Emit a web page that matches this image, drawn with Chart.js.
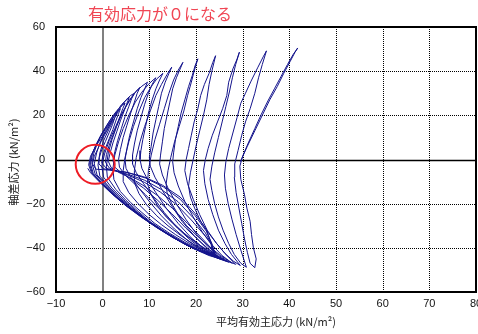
<!DOCTYPE html>
<html lang="ja">
<head>
  <meta charset="UTF-8" />
  <title>有効応力経路</title>
  <script src="https://cdn.jsdelivr.net/npm/chart.js"></script>
  <style>
    html, body {
      margin: 0;
      padding: 0;
      background: #fff;
    }
    #wrap {
      position: relative;
      width: 478px;
      height: 334px;
    }
  </style>
</head>
<body>

  <div id="wrap">
    <canvas id="pathChart" width="478" height="334"></canvas>
  </div>

  <script>
    // axis ticks
    const xTickValues = [-10, 0, 10, 20, 30, 40, 50, 60, 70, 80];
    const yTickValues = [-60, -40, -20, 0, 20, 40, 60];

    // labels
    const noteText = '有効応力が０になる';
    const xTitle = '平均有効主応力 (kN/m²)';
    const yTitle = '軸差応力 (kN/m²)';

    // point where effective stress reaches zero (red circle)
    const zeroPoint = [[-1.6, -2.2]];

    // stress path [p', q], one array per loading cycle
    const loading0 = [[29.5,-1],[31,6],[32.6,13],[34.2,20],[35.8,27],[37.4,33],[38.8,39],[40.2,44.5],[41.2,48.5]];
    const cycle01 = [[41.8,50.5],[40.8,47.5],[39.6,43],[38.2,37.5],[36.8,32],[35.4,26.5],[34,20.5],[32.6,14],[31.2,7.5],[30,1.5],[29.4,-3],[29.6,-9],[30.4,-16],[30.9,-22],[31.6,-28],[31.9,-34],[32.3,-40],[32.9,-45],[32.6,-49],
      [31.6,-47],[31,-42],[30.4,-36],[29.8,-29],[29.2,-22],[28.6,-15],[28.2,-8],[28.3,-2],[29,4],[29.8,11],[30.6,17],[31.6,23],[32.6,30],[33.4,37],[34.2,43]];
    const cycle02 = [[35.1,49.2],[34.4,46.5],[33.2,41.5],[31.8,35.5],[30.6,30],[29.6,25.5],[28.8,19],[27.9,12],[27,5],[26.4,-1],[26.1,-7],[26.3,-13],[26.9,-20],[27.7,-27],[28.6,-34],[29.6,-41],[30.8,-48.8],
      [29.6,-47],[28.2,-43],[27,-38],[25.8,-32],[24.8,-26],[24,-20],[23.4,-14],[23,-9],[23.4,-3],[24,3],[24.8,10],[25.6,17],[26.4,24],[27.2,31],[27.8,37],[28.5,43]];
    const cycle03 = [[29.3,48.6],[28.8,45.5],[27.9,41],[27,35],[26.6,29],[25.7,23],[24.6,17],[23.5,11],[22.6,5],[22,0],[21.6,-5],[21.9,-11],[22.6,-18],[23.6,-25],[24.8,-32],[26.2,-38],[27.6,-43],[29.5,-48],
      [28,-46],[26.2,-42.5],[24.4,-38],[22.6,-33],[21,-28],[19.7,-22],[18.8,-17],[18.4,-12],[18.8,-6],[19.4,0],[20,6],[20.8,13],[21.6,20],[22.3,27],[22.8,34],[23.4,40]];
    const cycle04 = [[24.2,47],[23.6,44],[22.8,39],[21.8,34],[21,29],[20.4,23],[19.6,17],[19,11],[18.4,5],[17.9,0],[17.6,-5],[18.2,-11],[19.4,-18],[20.8,-25],[22.4,-32],[24.4,-38],[26.4,-43],[28.5,-47.5],
      [27,-46],[25,-43],[22.6,-39],[20.2,-34.5],[18,-30],[16.2,-25],[14.8,-20],[13.8,-15],[13.6,-11],[14,-5],[14.6,1],[15.4,8],[16.4,15],[17.4,22],[18.2,29],[19,35],[19.6,40]];
    const cycle05 = [[20.4,45.6],[19.8,42.5],[19.2,38],[18.4,33],[17.6,27],[16.8,21],[16.2,15],[15.6,9],[15.2,3],[15,-1],[15.3,-6],[16.2,-12],[17.6,-19],[19.4,-26],[21.4,-33],[23.6,-39],[25.6,-43.5],[27.8,-47],
      [26,-45.5],[23.6,-42.5],[21,-39],[18.4,-35],[15.8,-30.5],[13.6,-26],[11.8,-21],[10.4,-16],[9.6,-11],[9.8,-5],[10.4,2],[11.2,9],[12.2,16],[13.2,23],[14.2,30],[15.2,36],[16.2,40.5]];
    const cycle06 = [[17.2,44],[16.6,41],[15.8,37],[15,32],[14.4,26],[13.8,20],[13.2,14],[12.8,8],[12.4,2],[12.2,-2],[12.8,-7],[14,-13],[15.8,-20],[17.8,-27],[20.2,-34],[22.6,-39.5],[25,-43.5],[27,-46.5],
      [25,-45],[22.4,-42],[19.6,-38.5],[16.8,-34.5],[14,-30],[11.6,-25.5],[9.4,-20.5],[7.8,-15.5],[6.8,-10.5],[6.8,-5],[7.2,1],[8,8],[9,15],[10.2,22],[11.4,29],[12.6,34],[13.8,38.5]];
    const cycle07 = [[14.8,41.8],[14.2,39],[13.4,35],[12.6,30],[12,24],[11.4,18],[10.8,12],[10.4,6],[10,1],[10.2,-3],[11.2,-8],[12.8,-14],[14.8,-21],[17,-28],[19.6,-34.5],[22.2,-40],[24.6,-43.5],[26.5,-46],
      [24.4,-44.5],[21.6,-41.5],[18.6,-38],[15.6,-34],[12.6,-29.5],[10,-25],[7.6,-20],[5.6,-15],[4.4,-10],[4.4,-5],[4.8,1],[5.6,8],[6.6,15],[7.8,22],[9,28],[10.4,33],[11.6,36.5]];
    const cycle08 = [[12.9,39],[12.2,36],[11.4,32],[10.6,27],[9.8,21],[9.2,15],[8.6,9],[8.2,4],[8,0],[8.4,-4],[9.6,-9],[11.4,-15],[13.6,-22],[16.2,-29],[19,-35.5],[21.8,-40.5],[24.2,-43.5],[26,-45.5],
      [23.8,-44],[20.8,-41],[17.6,-37.5],[14.4,-33.5],[11.2,-29],[8.4,-24],[6,-19.5],[3.8,-14.5],[2.4,-9],[2.2,-4],[2.6,2],[3.4,8],[4.4,14],[5.6,20],[7,26],[8.4,30.5],[9.8,34],[10.8,36]];
    const cycle09 = [[11.4,37],[10.6,34],[9.8,30],[9,25],[8.2,19],[7.4,13],[6.8,7],[6.4,2],[6.4,-2],[7.2,-6],[8.8,-11],[10.8,-17],[13.2,-24],[16,-31],[18.8,-36.5],[21.6,-41],[24,-43.5],[25.5,-45],
      [23.2,-43.5],[20,-40.5],[16.8,-37],[13.6,-33],[10.4,-28.5],[7.6,-23.5],[5,-18.5],[2.8,-13.5],[1,-8],[0.8,-3],[1.2,3],[2,9],[3,15],[4.2,21],[5.6,26.5],[7,30.5],[8.4,33.2]];
    const cycle10 = [[9.6,35],[9,32],[8.2,28],[7.4,23],[6.6,17],[5.8,11],[5.2,5],[4.8,0],[5,-4],[6,-8],[7.8,-13],[10,-19],[12.6,-25.5],[15.4,-31.5],[18.4,-37],[21.2,-41],[23.6,-43.5],[25.2,-45],
      [22.8,-43.5],[19.6,-40.5],[16.2,-36.5],[13,-32.5],[9.8,-28],[7,-23],[4.4,-18],[2,-13],[0.2,-8],[-0.2,-3],[0.4,2.5],[1.4,8.5],[2.6,14],[3.8,19.5],[5,24],[6.2,28],[7.2,31]];
    const cycle11 = [[8,32.7],[7.4,30],[6.8,26],[6,21],[5.2,15.5],[4.4,10],[3.8,4.5],[3.4,0],[3.6,-3.5],[4.8,-7],[6.8,-11],[9.2,-16],[12,-22],[15,-28.5],[18,-34.5],[21,-39.5],[23.4,-43],[25,-44.5],
      [22.6,-43],[19.2,-40],[15.8,-36],[12.6,-32],[9.4,-27.5],[6.4,-22.5],[3.8,-17.5],[1.4,-12.5],[-0.6,-7.5],[-1,-2.5],[-0.6,3],[0.2,8.5],[1.4,14],[2.6,19],[3.8,23.5],[5,27],[6,29]];
    const cycle12 = [[6.8,30],[6.2,27.5],[5.6,24],[4.8,19.5],[4,14],[3.2,8.5],[2.6,3.5],[2.2,-0.5],[2.6,-3.5],[4,-6],[6.2,-9],[8.8,-13],[11.8,-18.5],[14.8,-24.5],[17.8,-31],[20.8,-37],[23.2,-41.5],[24.8,-44],
      [22.4,-42.8],[19,-39.8],[15.6,-35.8],[12.4,-31.5],[9.2,-27],[6.2,-22],[3.4,-17],[1,-12],[-1.2,-7],[-1.8,-2],[-1.3,3],[-0.5,8],[0.6,13],[1.8,17.5],[3,21.5],[4,24.8],[5,26.8]];
    const cycle13 = [[5.7,28],[5.2,25.5],[4.6,22],[3.8,17.5],[3,12.5],[2.2,7.5],[1.6,3],[1.2,-0.8],[1.8,-3.6],[3.4,-5.8],[5.8,-8.2],[8.6,-11.6],[11.8,-16.4],[15,-22.2],[18.2,-29],[21.2,-35.5],[23.4,-40.5],[24.5,-44],
      [22.2,-42.6],[18.8,-39.6],[15.4,-35.6],[12.2,-31.4],[9,-26.8],[5.8,-21.8],[3,-16.8],[0.6,-11.6],[-1.6,-6.6],[-2.3,-1.8],[-1.9,2.8],[-1.1,7.6],[0,12.4],[1.2,16.6],[2.4,20.4],[3.4,23],[4.2,24.6]];
    const cycle14 = [[4.8,25.5],[4.3,23],[3.7,19.5],[3,15.5],[2.2,11],[1.4,6.5],[0.8,2.2],[0.6,-1.2],[1.4,-3.8],[3.2,-5.4],[5.8,-7.4],[9,-10.4],[12.4,-14.8],[15.8,-20.4],[19,-27.4],[21.8,-34.2],[23.6,-39.4],[24.2,-43.5],
      [22,-42.4],[18.6,-39.4],[15.2,-35.4],[12,-31.2],[8.8,-26.6],[5.6,-21.6],[2.8,-16.6],[0.2,-11.4],[-2,-6.4],[-2.6,-2],[-2.2,2.4],[-1.4,6.8],[-0.4,11],[0.8,15],[1.8,18.4],[2.8,21],[3.4,22.3]];
    const cycle15 = [[3.8,23],[3.4,20.8],[2.8,17.4],[2.2,13.6],[1.4,9.4],[0.6,5.2],[0,1.6],[-0.2,-1.6],[0.8,-4],[2.8,-5.2],[5.6,-6.8],[9,-9.4],[12.6,-13.6],[16.2,-19.2],[19.4,-26.4],[22,-33.2],[23.4,-38.6],[24,-43],
      [21.8,-42.2],[18.4,-39.2],[15,-35.2],[11.8,-31],[8.6,-26.4],[5.4,-21.4],[2.6,-16.4],[0,-11.2],[-2.2,-6.2],[-2.8,-2.2],[-2.4,1.8],[-1.6,5.8],[-0.6,9.8],[0.6,13.8],[1.6,17],[2.4,19.4],[2.8,20.4]];
    const cycle16 = [[3,21],[2.6,19],[2.1,15.8],[1.4,12.2],[0.6,8.2],[-0.2,4.4],[-0.7,1],[-0.8,-2],[0.2,-4.2],[2.4,-5],[5.4,-6],[9.2,-8.4],[13,-12.4],[16.6,-18],[19.8,-25.4],[22.2,-32.4],[23.4,-38],[23.8,-43],
      [21.6,-42],[18.2,-39],[14.8,-35],[11.6,-30.8],[8.4,-26.2],[5.2,-21.2],[2.4,-16.2],[-0.2,-11],[-2.4,-6],[-3,-2.4],[-2.6,1.5],[-1.6,5.5],[-0.4,9.5],[0.9,13.2],[1.7,16.2],[2.1,17.8]];
    const cycle17 = [[2.2,18.5],[1.6,16],[0.8,12.6],[-0.2,8.8],[-1,5],[-1.8,1.4],[-2.2,-2],[-1.4,-4.4],[1.4,-4.8],[4.8,-5.6],[8.8,-7.8],[12.8,-11.6],[16.6,-17],[19.8,-24.4],[22.2,-31.6],[23.2,-37.6],[23.5,-42.5],
      [21.4,-41.8],[18,-38.8],[14.6,-34.8],[11.4,-30.6],[8.2,-26],[5,-21],[2.2,-16],[-0.4,-10.8],[-2.6,-6],[-3.2,-4]];

    const pathPoints = [loading0, cycle01, cycle02, cycle03, cycle04, cycle05, cycle06, cycle07, cycle08,
      cycle09, cycle10, cycle11, cycle12, cycle13, cycle14, cycle15, cycle16, cycle17]
      .flat()
      .map(([p, q]) => ({ x: p, y: q }));

    const minusSign = v => String(v).replace('-', '\u2212');

    // dotted grid, zero lines, frame and texts
    const framePlugin = {
      id: 'frame',
      beforeDatasetsDraw(chart) {
        const { ctx, chartArea: a, scales: { x, y } } = chart;
        ctx.save();
        ctx.strokeStyle = '#000';
        ctx.lineWidth = 1;
        ctx.setLineDash([1, 1]);
        xTickValues.forEach(v => {
          if (v === 0 || v === x.min || v === x.max) return;
          const px = Math.round(x.getPixelForValue(v)) + 0.5;
          ctx.beginPath();
          ctx.moveTo(px, a.top);
          ctx.lineTo(px, a.bottom);
          ctx.stroke();
        });
        yTickValues.forEach(v => {
          if (v === 0 || v === y.min || v === y.max) return;
          const py = Math.round(y.getPixelForValue(v)) + 0.5;
          ctx.beginPath();
          ctx.moveTo(a.left, py);
          ctx.lineTo(a.right, py);
          ctx.stroke();
        });
        ctx.setLineDash([]);

        const x0 = Math.round(x.getPixelForValue(0));
        ctx.strokeStyle = '#808080';
        ctx.lineWidth = 2;
        ctx.beginPath();
        ctx.moveTo(x0, a.top);
        ctx.lineTo(x0, a.bottom);
        ctx.stroke();

        const y0 = Math.round(y.getPixelForValue(0)) + 0.5;
        ctx.strokeStyle = '#000';
        ctx.lineWidth = 1.5;
        ctx.beginPath();
        ctx.moveTo(a.left, y0);
        ctx.lineTo(a.right, y0);
        ctx.stroke();
        ctx.restore();
      },
      afterDatasetsDraw(chart) {
        const { ctx, chartArea: a } = chart;
        ctx.save();
        ctx.strokeStyle = '#000';
        ctx.lineWidth = 2;
        ctx.strokeRect(a.left, a.top, a.right - a.left, a.bottom - a.top);
        ctx.restore();
      },
      afterDraw(chart) {
        const ctx = chart.ctx;
        ctx.save();
        ctx.fillStyle = '#f04654';
        ctx.font = "16px 'Noto Sans CJK JP'";
        ctx.textAlign = 'left';
        ctx.textBaseline = 'middle';
        ctx.fillText(noteText, 88, 14);

        ctx.fillStyle = '#222';
        ctx.font = "11px 'Noto Sans CJK JP'";
        ctx.textAlign = 'center';
        ctx.fillText(xTitle, 276, 322);

        ctx.translate(14, 162);
        ctx.rotate(-Math.PI / 2);
        ctx.fillText(yTitle, 0, 0);
        ctx.restore();
      }
    };

    const tickFont = { family: "'Liberation Sans', Arial, sans-serif", size: 11 };

    new Chart(document.getElementById('pathChart'), {
      type: 'scatter',
      data: {
        datasets: [
          {
            data: zeroPoint.map(([p, q]) => ({ x: p, y: q })),
            pointRadius: 19.5,
            pointHoverRadius: 19.5,
            pointBorderWidth: 2,
            pointBorderColor: '#ee1c25',
            pointBackgroundColor: 'rgba(0,0,0,0)',
            showLine: false
          },
          {
            data: pathPoints,
            showLine: true,
            borderColor: '#14148c',
            borderWidth: 1,
            pointRadius: 0,
            tension: 0,
            fill: false
          }
        ]
      },
      options: {
        responsive: false,
        animation: false,
        devicePixelRatio: 1,
        layout: {
          autoPadding: false,
          padding: { top: 27, right: 2, left: 0, bottom: 0 }
        },
        plugins: {
          legend: { display: false },
          tooltip: { enabled: false }
        },
        scales: {
          x: {
            type: 'linear',
            min: -10,
            max: 80,
            afterBuildTicks: s => { s.ticks = xTickValues.map(v => ({ value: v })); },
            afterFit: s => {
              s.height = 42;
              s.paddingLeft = 0;
              s.paddingRight = 0;
            },
            grid: { display: false, drawTicks: false },
            border: { display: false },
            ticks: { padding: 5, color: '#111', font: tickFont, callback: minusSign }
          },
          y: {
            type: 'linear',
            min: -60,
            max: 60,
            afterBuildTicks: s => { s.ticks = yTickValues.map(v => ({ value: v })); },
            afterFit: s => {
              s.width = 56;
              s.paddingTop = 0;
              s.paddingBottom = 0;
            },
            grid: { display: false, drawTicks: false },
            border: { display: false },
            ticks: { padding: 11, color: '#111', font: tickFont, callback: minusSign }
          }
        }
      },
      plugins: [framePlugin]
    });
  </script>

</body>
</html>
